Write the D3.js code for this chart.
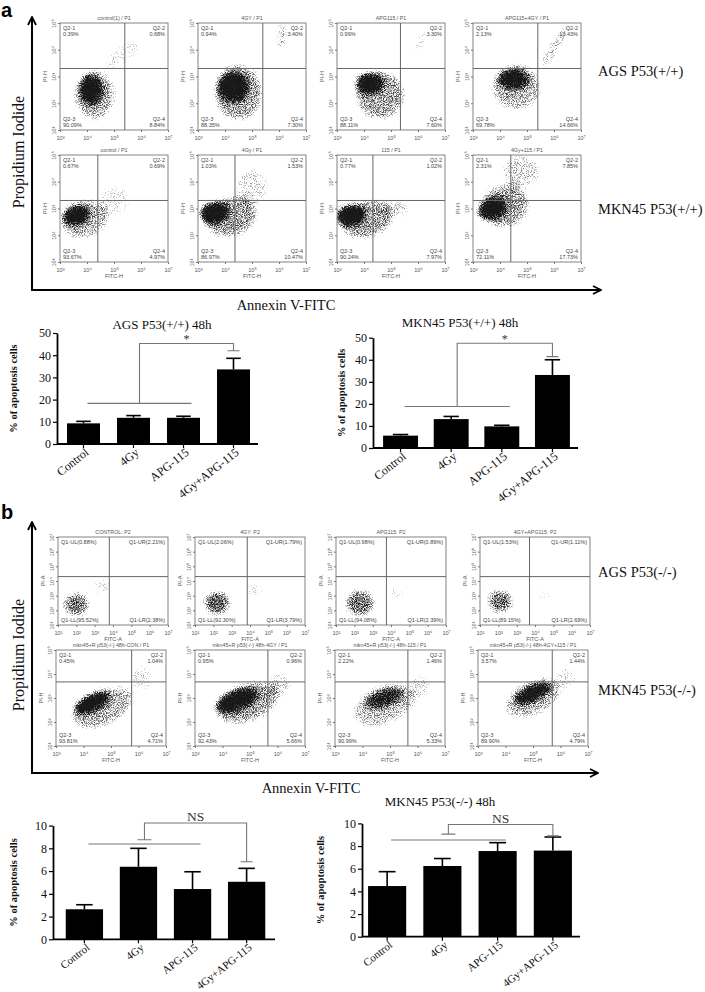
<!DOCTYPE html>
<html>
<head>
<meta charset="utf-8">
<script src="https://cdn.jsdelivr.net/npm/d3@7"></script>
<style>
body{margin:0;background:#fff}
svg{display:block}
</style>
</head>
<body>
<svg id="fig" width="705" height="992"></svg>
<script>
// bar chart data (% of apoptosis cells)
var barCats = ["Control", "4Gy", "APG-115", "4Gy+APG-115"];
var agsWtMean = [9.3, 11.8, 11.8, 33.6];
var agsWtErr = [0.9, 1.0, 0.7, 5.0];
var mknWtMean = [5.6, 13.1, 9.8, 33.1];
var mknWtErr = [0.5, 1.2, 0.5, 6.9];
var agsNullMean = [2.64, 6.38, 4.42, 5.06];
var agsNullErr = [0.4, 1.62, 1.52, 1.18];
var mknNullMean = [4.47, 6.24, 7.56, 7.6];
var mknNullErr = [1.27, 0.66, 0.74, 1.2];
// significance brackets: group line, group cap, top, drop
var agsWtSig = [18.3, 18.3, 45.3, 42.0];
var mknWtSig = [18.8, 18.8, 47.5, 41.4];
var agsNullSig = [8.38, 8.75, 10.23, 6.82];
var mknNullSig = [8.53, 9.05, 9.9, 8.9];

// flow cytometry panels
var titlesA1 = ["control(1) / P1", "4GY / P1", "APG115 / P1", "APG115+4GY / P1"];
var titlesA2 = ["control / P1", "4Gy / P1", "115 / P1", "4Gy+115 / P1"];
var titlesB1 = ["CONTROL: P2", "4GY: P2", "APG115: P2", "4GY+APG115: P2"];
var titlesB2 = ["mkn45+R p53(-/-) 48h-CON / P1", "mkn45+R p53(-/-) 48h-4GY / P1",
                "mkn45+R p53(-/-) 48h-115 / P1", "mkn45+R p53(-/-) 48h-4GY+115 / P1"];
// quadrant % : UL, UR, LL, LR
var quadA1 = [["0.39%","0.68%","90.09%","8.84%"], ["0.94%","3.40%","88.35%","7.30%"],
              ["0.99%","3.30%","88.11%","7.60%"], ["2.13%","13.43%","69.78%","14.66%"]];
var quadA2 = [["0.67%","0.69%","93.67%","4.97%"], ["1.03%","1.53%","86.97%","10.47%"],
              ["0.77%","1.02%","90.24%","7.97%"], ["2.31%","7.85%","72.11%","17.73%"]];
var quadB1 = [["0.88%","2.21%","95.52%","2.38%"], ["2.06%","1.79%","92.30%","3.79%"],
              ["0.98%","0.89%","94.08%","2.39%"], ["1.53%","1.11%","89.15%","2.69%"]];
var quadB2 = [["0.45%","1.04%","93.81%","4.71%"], ["0.95%","0.96%","92.43%","5.66%"],
              ["2.22%","1.46%","90.99%","5.33%"], ["3.57%","1.44%","89.90%","4.79%"]];
// gate positions (log10 x, log10 y)
var gateA1 = [[5.4, 3.3], [5.4, 3.3], [5.35, 3.3], [5.4, 3.3]];
var gateA2 = [[4.4, 3.3], [4.37, 3.3], [4.33, 3.3], [4.4, 3.3]];
var gateB1 = [[3.8, 4.3], [3.85, 4.3], [3.75, 4.3], [3.7, 4.3]];
var gateB2 = [[5.75, 3.67], [5.65, 3.67], [5.65, 3.67], [5.7, 3.67]];
// cell populations: [cx, cy, rx, ry (decades), angle, density]
var popA1 = [
  [[4.15, 2.5, 0.42, 0.55, 0, 1], [4.3, 2.3, 0.75, 0.95, 0, 0.45], [5.3, 3.8, 0.8, 0.35, -35, 0.25]],
  [[4.3, 2.6, 0.55, 0.55, 0, 1], [4.5, 2.4, 0.9, 1.05, 0, 0.5], [6.1, 4.5, 0.14, 0.55, 0, 0.5]],
  [[4.2, 2.75, 0.5, 0.4, 0, 1], [4.6, 2.3, 0.9, 0.9, 0, 0.5], [6.1, 4.3, 0.15, 0.5, 20, 0.35]],
  [[4.5, 2.9, 0.55, 0.38, 0, 0.95], [4.6, 2.6, 0.9, 0.85, 0, 0.45], [6.0, 4.1, 0.2, 0.95, 30, 0.4]]
];
var popA2 = [
  [[3.6, 2.75, 0.5, 0.35, -15, 1], [3.9, 2.6, 0.9, 0.7, -15, 0.45], [5.0, 3.3, 0.6, 0.6, 0, 0.25]],
  [[3.6, 2.85, 0.55, 0.4, -10, 1], [4.2, 2.7, 1.0, 0.75, -15, 0.5], [5.0, 3.8, 0.6, 0.7, 0, 0.3]],
  [[3.5, 2.75, 0.55, 0.4, -10, 1], [4.1, 2.6, 1.0, 0.7, -15, 0.5], [5.2, 3.0, 0.5, 0.3, 0, 0.35]],
  [[3.7, 3.0, 0.55, 0.4, -20, 1], [4.2, 3.1, 0.9, 0.8, -20, 0.5], [4.8, 4.4, 0.7, 0.6, 0, 0.35]]
];
var popB1 = [
  [[2.0, 2.4, 0.7, 0.8, 0, 0.6], [3.4, 3.6, 0.5, 0.6, 0, 0.28]],
  [[2.2, 2.5, 0.7, 0.8, 0, 0.66], [4.3, 3.4, 0.5, 0.5, 0, 0.28]],
  [[2.3, 2.5, 0.8, 0.9, 0, 0.6], [4.3, 3.2, 0.5, 0.5, 0, 0.24]],
  [[2.1, 2.6, 0.7, 0.8, 0, 0.6], [4.5, 3.0, 0.5, 0.4, 0, 0.24]]
];
var popB2 = [
  [[4.3, 2.8, 0.7, 0.35, -25, 1], [4.7, 2.6, 1.2, 0.75, -25, 0.45], [6.1, 3.8, 0.4, 0.6, 0, 0.28]],
  [[4.5, 2.9, 0.8, 0.4, -20, 1], [4.9, 2.8, 1.2, 0.8, -20, 0.5], [6.1, 3.6, 0.4, 0.5, 0, 0.3]],
  [[4.8, 3.0, 0.7, 0.35, -20, 0.75], [4.8, 2.7, 1.2, 0.8, -20, 0.42], [6.1, 3.5, 0.4, 0.5, 0, 0.28]],
  [[5.0, 3.2, 0.7, 0.3, -25, 1], [5.0, 3.0, 1.1, 0.7, -25, 0.45], [6.2, 3.9, 0.4, 0.5, 0, 0.28]]
];

var svg = d3.select("#fig");
var serif = "'Liberation Serif','DejaVu Serif',serif";
var sans = "'Liberation Sans','DejaVu Sans',sans-serif";
var sup = ["\u2070", "\u00b9", "\u00b2", "\u00b3", "\u2074", "\u2075", "\u2076", "\u2077"];
var defs = svg.append("defs");
var clipCount = 0;

defs.append("marker").attr("id", "arr")
    .attr("viewBox", "0 0 10 10").attr("refX", 9).attr("refY", 5)
    .attr("markerWidth", 5).attr("markerHeight", 5).attr("orient", "auto")
  .append("path").attr("d", "M1,1 L9,5 L1,9")
    .attr("fill", "none").attr("stroke", "#000").attr("stroke-width", 1.8);

// speckled density look for the cell populations
var sp = defs.append("filter").attr("id", "speck")
    .attr("x", "-30%").attr("y", "-30%").attr("width", "160%").attr("height", "160%");
sp.append("feGaussianBlur").attr("in", "SourceGraphic").attr("stdDeviation", 3).attr("result", "b");
sp.append("feTurbulence").attr("type", "fractalNoise").attr("baseFrequency", 1.1)
    .attr("numOctaves", 2).attr("seed", 7).attr("result", "t");
sp.append("feColorMatrix").attr("in", "t").attr("type", "matrix")
    .attr("values", "0 0 0 0 0  0 0 0 0 0  0 0 0 0 0  0 0 0 2.6 -0.8").attr("result", "m");
sp.append("feComposite").attr("in", "b").attr("in2", "m").attr("operator", "arithmetic")
    .attr("k1", 0).attr("k2", 2.2).attr("k3", 1).attr("k4", -1.25);

function flowPanel(p) {
    var g = svg.append("g");
    var xs = d3.scaleLinear().domain(p.xd).range([p.x, p.x + p.w]);
    var ys = d3.scaleLinear().domain(p.yd).range([p.y + p.h, p.y]);
    var id = "clip" + (clipCount++);
    defs.append("clipPath").attr("id", id).append("rect")
        .attr("x", p.x).attr("y", p.y).attr("width", p.w).attr("height", p.h);

    g.append("g").attr("clip-path", "url(#" + id + ")").attr("opacity", 0.9)
      .append("g").attr("filter", "url(#speck)")
      .selectAll("ellipse").data(p.pop).join("ellipse")
        .attr("transform", function (d) { return "translate(" + xs(d[0]) + "," + ys(d[1]) + ") rotate(" + d[4] + ")"; })
        .attr("rx", function (d) { return xs(d[0] + d[2]) - xs(d[0]); })
        .attr("ry", function (d) { return ys(d[1]) - ys(d[1] + d[3]); })
        .attr("fill", "#1a1a1a").attr("fill-opacity", function (d) { return d[5]; });

    g.append("rect").attr("x", p.x).attr("y", p.y).attr("width", p.w).attr("height", p.h)
        .attr("fill", "none").attr("stroke", "#777").attr("stroke-width", 0.9);
    g.append("line").attr("x1", xs(p.gate[0])).attr("x2", xs(p.gate[0]))
        .attr("y1", p.y).attr("y2", p.y + p.h).attr("stroke", "#666").attr("stroke-width", 1);
    g.append("line").attr("x1", p.x).attr("x2", p.x + p.w)
        .attr("y1", ys(p.gate[1])).attr("y2", ys(p.gate[1])).attr("stroke", "#666").attr("stroke-width", 1);

    var fmt = function (v) { return "10" + sup[v]; };
    var xa = d3.axisBottom(xs).tickValues(d3.range(p.xd[0], p.xd[1] + 1))
        .tickSize(2).tickSizeOuter(0).tickFormat(fmt);
    var gx = g.append("g").attr("transform", "translate(0," + (p.y + p.h) + ")").call(xa);
    var ya = d3.axisLeft(ys).tickValues(d3.range(p.yd[0], p.yd[1] + 1))
        .tickSize(2).tickSizeOuter(0).tickFormat(fmt);
    var gy = g.append("g").attr("transform", "translate(" + p.x + ",0)").call(ya);
    [gx, gy].forEach(function (a) {
        a.attr("font-family", sans).attr("font-size", 5.5);
        a.select(".domain").remove();
        a.selectAll("line").attr("stroke", "#777");
        a.selectAll("text").attr("fill", "#555");
    });
    gx.selectAll("text").attr("dy", "0.9em");
    gy.selectAll("text").attr("x", 0).attr("y", 0).attr("dy", 0)
        .attr("text-anchor", "middle").attr("transform", "translate(-4,0) rotate(-90)");

    g.append("text").attr("x", p.x - 13).attr("y", p.y + p.h / 2)
        .attr("transform", "rotate(-90," + (p.x - 13) + "," + (p.y + p.h / 2) + ")")
        .attr("text-anchor", "middle").attr("font-family", sans).attr("font-size", 5.5).attr("fill", "#555")
        .text(p.yName);
    if (p.xName) {
        g.append("text").attr("x", p.x + p.w / 2).attr("y", p.y + p.h + 16)
            .attr("text-anchor", "middle").attr("font-family", sans).attr("font-size", 5.5).attr("fill", "#555")
            .text(p.xName);
    }
    g.append("text").attr("x", p.x + p.w / 2).attr("y", p.y - 3)
        .attr("text-anchor", "middle").attr("font-family", sans).attr("font-size", 5.3).attr("fill", "#555")
        .text(p.title);

    var q = p.quad, fs = 5.5, col = "#444";
    function t(x, y, anchor, s) {
        g.append("text").attr("x", x).attr("y", y).attr("text-anchor", anchor)
            .attr("font-family", sans).attr("font-size", fs).attr("fill", col).text(s);
    }
    if (p.style === "Q2") {
        t(p.x + 3, p.y + 7, "start", "Q2-1"); t(p.x + 3, p.y + 13, "start", q[0]);
        t(p.x + p.w - 3, p.y + 7, "end", "Q2-2"); t(p.x + p.w - 3, p.y + 13, "end", q[1]);
        t(p.x + 3, p.y + p.h - 9, "start", "Q2-3"); t(p.x + 3, p.y + p.h - 3, "start", q[2]);
        t(p.x + p.w - 3, p.y + p.h - 9, "end", "Q2-4"); t(p.x + p.w - 3, p.y + p.h - 3, "end", q[3]);
    } else {
        t(p.x + 3, p.y + 7, "start", "Q1-UL(" + q[0] + ")");
        t(p.x + p.w - 3, p.y + 7, "end", "Q1-UR(" + q[1] + ")");
        t(p.x + 3, p.y + p.h - 3, "start", "Q1-LL(" + q[2] + ")");
        t(p.x + p.w - 3, p.y + p.h - 3, "end", "Q1-LR(" + q[3] + ")");
    }
}

function flowRow(xs, y, w, h, xd, yd, titles, quads, gates, pops, style, yName, xName) {
    titles.forEach(function (tt, i) {
        flowPanel({x: xs[i], y: y, w: w, h: h, xd: xd, yd: yd, title: tt, quad: quads[i],
                   gate: gates[i], pop: pops[i], style: style, yName: yName, xName: xName});
    });
}

flowRow([60, 198, 337, 473], 23, 108, 107, [3, 7], [1, 5], titlesA1, quadA1, gateA1, popA1, "Q2", "PI-H", null);
flowRow([60, 198, 337, 473], 155, 108, 107, [3, 7], [1, 5], titlesA2, quadA2, gateA2, popA2, "Q2", "PI-H", "FITC-H");
flowRow([58, 195, 336, 480], 537, 110, 88, [1, 7], [1, 7], titlesB1, quadB1, gateB1, popB1, "Q1", "PI-A", "FITC-A");
flowRow([56, 195, 335, 478], 650, 110, 96, [3, 7], [1, 5], titlesB2, quadB2, gateB2, popB2, "Q2", "PI-H", "FITC-H");

// frames with arrows
function frame(top, bottom, right) {
    svg.append("path").attr("d", "M32," + bottom + " L32," + top)
        .attr("stroke", "#000").attr("stroke-width", 2).attr("fill", "none").attr("marker-end", "url(#arr)");
    svg.append("path").attr("d", "M31," + bottom + " L" + right + "," + bottom)
        .attr("stroke", "#000").attr("stroke-width", 2).attr("fill", "none").attr("marker-end", "url(#arr)");
}
frame(17, 290, 601);
frame(522, 773, 598);

function label(x, y, s, size, opts) {
    var el = svg.append("text").attr("x", x).attr("y", y).attr("font-family", serif)
        .attr("font-size", size).attr("fill", "#111").text(s);
    if (opts && opts.rot) el.attr("transform", "rotate(-90," + x + "," + y + ")").attr("text-anchor", "middle");
    if (opts && opts.anchor) el.attr("text-anchor", opts.anchor);
    if (opts && opts.bold) el.attr("font-weight", "bold");
    return el;
}
svg.append("text").attr("x", 1).attr("y", 17).attr("font-family", sans).attr("font-weight", "bold")
    .attr("font-size", 20).text("a");
svg.append("text").attr("x", 1).attr("y", 519).attr("font-family", sans).attr("font-weight", "bold")
    .attr("font-size", 20).text("b");
label(24, 152, "Propidium Iodide", 16, {rot: true});
label(24, 655, "Propidium Iodide", 16, {rot: true});
label(286, 310, "Annexin V-FITC", 14.5, {anchor: "middle"});
label(311, 793, "Annexin V-FITC", 14.5, {anchor: "middle"});
label(598, 76, "AGS P53(+/+)", 14.5);
label(598, 214, "MKN45 P53(+/+)", 14.5);
label(598, 577, "AGS P53(-/-)", 14.5);
label(598, 695, "MKN45 P53(-/-)", 14.5);

function barChart(c) {
    var g = svg.append("g");
    var x = d3.scaleBand().domain(barCats).range([c.r0, c.r1]).paddingInner(c.pi).paddingOuter(c.po);
    var y = d3.scaleLinear().domain([0, c.max]).range([c.y0, c.y1]);
    var bw = x.bandwidth();
    var cx = function (i) { return x(barCats[i]) + bw / 2; };

    g.selectAll("rect.bar").data(c.mean).join("rect").attr("class", "bar")
        .attr("x", function (d, i) { return x(barCats[i]); })
        .attr("y", function (d) { return y(d); })
        .attr("width", bw).attr("height", function (d) { return y(0) - y(d); })
        .attr("fill", "#000");
    var eb = g.selectAll("g.err").data(c.mean).join("g").attr("class", "err");
    eb.append("line").attr("x1", function (d, i) { return cx(i); }).attr("x2", function (d, i) { return cx(i); })
        .attr("y1", function (d) { return y(d); })
        .attr("y2", function (d, i) { return y(d + c.err[i]); })
        .attr("stroke", "#000").attr("stroke-width", 1.6);
    eb.append("line").attr("x1", function (d, i) { return cx(i) - bw * 0.22; })
        .attr("x2", function (d, i) { return cx(i) + bw * 0.22; })
        .attr("y1", function (d, i) { return y(d + c.err[i]); })
        .attr("y2", function (d, i) { return y(d + c.err[i]); })
        .attr("stroke", "#000").attr("stroke-width", 1.6);

    var ya = d3.axisLeft(y).tickValues(d3.range(0, c.max + 0.01, c.step)).tickSize(4).tickSizeOuter(0);
    var gy = g.append("g").attr("transform", "translate(" + c.ax + ",0)").call(ya);
    var xa = d3.axisBottom(x).tickSize(4).tickSizeOuter(0);
    var gx = g.append("g").attr("transform", "translate(0," + y(0) + ")").call(xa);
    gx.select(".domain").attr("d", "M" + c.ax + ",0H" + c.xEnd);
    [gx, gy].forEach(function (a) {
        a.attr("font-family", serif).attr("font-size", 12);
        a.select(".domain").attr("stroke", "#000").attr("stroke-width", 1.8);
        a.selectAll(".tick line").attr("stroke", "#000").attr("stroke-width", 1.2);
        a.selectAll("text").attr("fill", "#111");
    });
    gy.selectAll("text").attr("x", -6);
    gx.selectAll("text").attr("text-anchor", "end").attr("dy", "0.3em").attr("font-size", c.xFont)
        .attr("transform", "translate(4,7) rotate(-38)").attr("y", 0).attr("x", 0);

    // significance bracket
    var s = c.sig, gc = "#777";
    var gl0 = cx(0) + 4, gl1 = cx(2) + 8, mid = (gl0 + gl1) / 2, dx = cx(3);
    var path = [
        "M" + gl0 + "," + y(s[0]) + "H" + gl1,
        "M" + mid + "," + y(s[1]) + "V" + y(s[2]) + "H" + dx + "V" + y(s[3]),
        "M" + (dx - 6) + "," + y(s[3]) + "H" + (dx + 6)
    ];
    if (s[1] !== s[0]) path.push("M" + (mid - 7) + "," + y(s[1]) + "H" + (mid + 7));
    g.append("path").attr("d", path.join(" ")).attr("fill", "none").attr("stroke", gc).attr("stroke-width", 1.1);
    var star = c.mark === "*";
    g.append("text").attr("x", (mid + dx) / 2).attr("y", y(s[2]) - (star ? 0 : 2))
        .attr("text-anchor", "middle").attr("font-family", serif).attr("font-size", star ? 12 : 13.5)
        .attr("fill", "#333").text(c.mark);

    if (c.title) label(c.titleX, c.titleY, c.title, 13, {anchor: "middle"});
    label(c.labX, (c.y0 + c.y1) / 2, "% of apoptosis cells", 10.5, {rot: true, bold: true});
}

barChart({mean: agsWtMean, err: agsWtErr, sig: agsWtSig, mark: "*", max: 50, step: 10, xFont: 12,
          ax: 57, xEnd: 258, r0: 60, r1: 257, pi: 0.34, po: 0.14, y0: 444, y1: 333,
          title: "AGS P53(+/+)  48h", titleX: 162, titleY: 329, labX: 17});
barChart({mean: mknWtMean, err: mknWtErr, sig: mknWtSig, mark: "*", max: 50, step: 10, xFont: 12,
          ax: 373, xEnd: 578, r0: 376, r1: 577, pi: 0.31, po: 0.14, y0: 448, y1: 337.7,
          title: "MKN45 P53(+/+) 48h", titleX: 460, titleY: 327, labX: 345});
barChart({mean: agsNullMean, err: agsNullErr, sig: agsNullSig, mark: "NS", max: 10, step: 2, xFont: 11,
          ax: 53, xEnd: 275, r0: 56, r1: 275, pi: 0.31, po: 0.18, y0: 939.3, y1: 825.6,
          title: null, labX: 17});
barChart({mean: mknNullMean, err: mknNullErr, sig: mknNullSig, mark: "NS", max: 10, step: 2, xFont: 11,
          ax: 362, xEnd: 580, r0: 362, r1: 578, pi: 0.31, po: 0.11, y0: 936.7, y1: 823.4,
          title: "MKN45 P53(-/-) 48h", titleX: 440, titleY: 806, labX: 324});
</script>
</body>
</html>
